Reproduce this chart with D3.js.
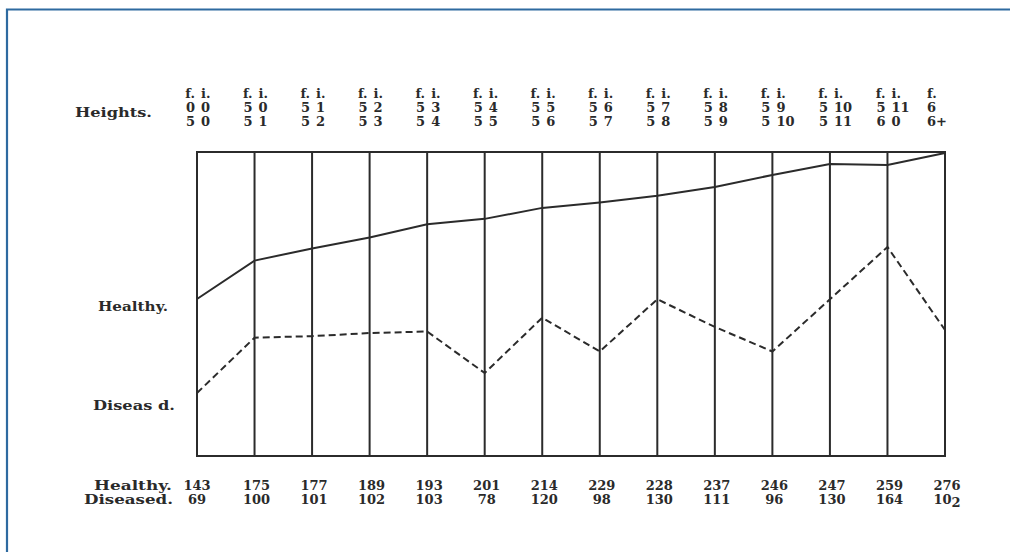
<!DOCTYPE html>
<html>
<head>
<meta charset="utf-8">
<script src="https://cdn.jsdelivr.net/npm/d3@7"></script>
<style>
  html, body { margin: 0; padding: 0; background: #fff; }
  svg { display: block; }
  text { font-family: "DejaVu Serif", "Liberation Serif", serif; font-weight: bold; fill: #2a2a2a; }
</style>
</head>
<body>
<svg id="chart" width="1010" height="552"></svg>
<script>
// ---- data ----
const unitLabels = ["f. i.","f. i.","f. i.","f. i.","f. i.","f. i.","f. i.","f. i.","f. i.","f. i.","f. i.","f. i.","f. i.","f."];
const heightsFrom = ["0 0","5 0","5 1","5 2","5 3","5 4","5 5","5 6","5 7","5 8","5 9","5 10","5 11","6"];
const heightsTo   = ["5 0","5 1","5 2","5 3","5 4","5 5","5 6","5 7","5 8","5 9","5 10","5 11","6 0","6+"];
// printed counts
const healthyCounts  = [143,175,177,189,193,201,214,229,228,237,246,247,259,276];
const diseasedCounts = [69,100,101,102,103,78,120,98,130,111,96,130,164,102];
// traced heights of the drawn lines (in count units)
const healthyLine  = [143,178,189,199,211,216,226,231,237,245,256,266,265,276];
const diseasedLine = [69,105,106,108,109,82,118,96,130,112,96,130,164,110];

// ---- layout ----
const svg = d3.select("#chart");
const frame = { left: 197, right: 945, top: 152, bottom: 456 };
const idx = d3.range(heightsFrom.length);

const x = d3.scalePoint().domain(idx).range([frame.left, frame.right]);
const yH = d3.scaleLinear().domain([143, 276]).range([299, 153]);
const yD = d3.scaleLinear().domain([69, 164]).range([393, 247]);

// page border (top and left)
svg.append("path")
  .attr("d", `M7,552 V9.5 H1010`)
  .attr("fill", "none").attr("stroke", "#2e6aa0").attr("stroke-width", 2.2);

const ink = "#2b2b2b";

// frame
svg.append("rect")
  .attr("x", frame.left).attr("y", frame.top)
  .attr("width", frame.right - frame.left).attr("height", frame.bottom - frame.top)
  .attr("fill", "none").attr("stroke", ink).attr("stroke-width", 2);

// vertical rules
svg.append("g").selectAll("line").data(idx.slice(1, -1)).join("line")
  .attr("x1", d => x(d)).attr("x2", d => x(d))
  .attr("y1", frame.top).attr("y2", frame.bottom)
  .attr("stroke", ink).attr("stroke-width", 2);

// lines
const lineH = d3.line().x((d, i) => x(i)).y(d => yH(d));
const lineD = d3.line().x((d, i) => x(i)).y(d => yD(d));
svg.append("path").datum(healthyLine).attr("d", lineH)
  .attr("fill", "none").attr("stroke", ink).attr("stroke-width", 2);
svg.append("path").datum(diseasedLine).attr("d", lineD)
  .attr("fill", "none").attr("stroke", ink).attr("stroke-width", 2)
  .attr("stroke-dasharray", "7,4");

function wideLabel(txt, xPos, yPos, len) {
  return svg.append("text").attr("x", xPos).attr("y", yPos).attr("font-size", 13.5)
    .attr("textLength", len).attr("lengthAdjust", "spacingAndGlyphs").text(txt);
}

// header
const headerRows = [98, 112, 126];
wideLabel("Heights.", 75, 117, 77);

function splitCell(g, label, cx, y) {
  const parts = label.split(" ");
  if (parts.length === 1) {
    g.append("text").attr("x", cx - 18).attr("y", y).attr("font-size", 13)
      .attr("text-anchor", "start").text(parts[0]);
  } else {
    g.append("text").attr("x", cx - 2).attr("y", y).attr("font-size", 13)
      .attr("text-anchor", "end").text(parts[0]);
    g.append("text").attr("x", cx + 4).attr("y", y).attr("font-size", 13)
      .attr("text-anchor", "start").text(parts[1]);
  }
}
const hg = svg.append("g");
idx.forEach(i => {
  const cx = x(i);
  splitCell(hg, unitLabels[i], cx, headerRows[0]);
  splitCell(hg, heightsFrom[i], cx, headerRows[1]);
  splitCell(hg, heightsTo[i], cx, headerRows[2]);
});

// side labels
wideLabel("Healthy.", 98, 311, 70);
wideLabel("Diseas d.", 93, 410, 82);

// bottom table
wideLabel("Healthy.", 94, 490, 78);
wideLabel("Diseased.", 84, 504, 89);

svg.append("g").selectAll("text").data(healthyCounts).join("text")
  .attr("x", (d, i) => x(i) + (i === 0 ? 0 : 2)).attr("y", 490).attr("font-size", 13)
  .attr("text-anchor", "middle").text(d => d);

const dg = svg.append("g");
diseasedCounts.forEach((d, i) => {
  const t = dg.append("text").attr("x", x(i) + (i === 0 ? 0 : 2)).attr("y", 504)
    .attr("font-size", 13).attr("text-anchor", "middle");
  if (i === diseasedCounts.length - 1) {
    const s = String(d);
    t.append("tspan").text(s.slice(0, -1));
    t.append("tspan").attr("dy", 3).text(s.slice(-1));
  } else {
    t.text(d);
  }
});
</script>
</body>
</html>
